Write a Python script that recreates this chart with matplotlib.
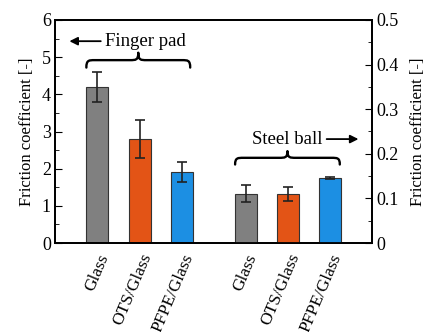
import matplotlib
matplotlib.use("Agg")
import matplotlib.pyplot as plt
from matplotlib.ticker import MultipleLocator
from matplotlib.path import Path
from matplotlib.patches import PathPatch

plt.rcParams['font.family'] = ['Liberation Serif', 'DejaVu Serif']

categories = ["Glass", "OTS/Glass", "PFPE/Glass", "Glass", "OTS/Glass", "PFPE/Glass"]
finger_vals = [4.2, 2.8, 1.9]
finger_err = [0.4, 0.5, 0.27]
steel_vals = [0.11, 0.11, 0.145]
steel_err = [0.019, 0.015, 0.002]
colors = ["#808080", "#E35416", "#1C8FE3"]

x_finger = [0, 1, 2]
x_steel = [3.5, 4.5, 5.5]


def brace(a, x0, x1, y0, y1):
    """Horizontal curly brace opening downwards, ends at y0, tip at y1."""
    xm = (x0 + x1) / 2
    ym = (y0 + y1) / 2
    d = (x1 - x0) * 0.08
    verts = [
        (x0, y0), (x0, ym), (x0 + d * 0.3, ym), (x0 + d, ym),
        (xm - d, ym),
        (xm - d * 0.3, ym), (xm, ym), (xm, y1),
        (xm, ym), (xm + d * 0.3, ym), (xm + d, ym),
        (x1 - d, ym),
        (x1 - d * 0.3, ym), (x1, ym), (x1, y0),
    ]
    codes = [Path.MOVETO, Path.CURVE4, Path.CURVE4, Path.CURVE4,
             Path.LINETO,
             Path.CURVE4, Path.CURVE4, Path.CURVE4,
             Path.CURVE4, Path.CURVE4, Path.CURVE4,
             Path.LINETO,
             Path.CURVE4, Path.CURVE4, Path.CURVE4]
    a.add_patch(PathPatch(Path(verts, codes), fill=False, lw=1.7, color="black",
                          capstyle='round', joinstyle='round'))


fig = plt.figure(figsize=(4.27, 3.32), dpi=100)
ax = fig.add_axes([55/427, 1-243/332, (372-55)/427, (243-20)/332])
ax2 = ax.twinx()

w = 0.52
ekw = dict(ecolor="#222222", elinewidth=1.2, capsize=3.5, capthick=1.2)
ax.bar(x_finger, finger_vals, width=w, color=colors, edgecolor="#333333", linewidth=0.8,
       yerr=finger_err, error_kw=ekw)
ax2.bar(x_steel, steel_vals, width=w, color=colors, edgecolor="#333333", linewidth=0.8,
        yerr=steel_err, error_kw=ekw)

ax.set_xlim(-1.0, 6.48)
ax.set_ylim(0, 6)
ax2.set_ylim(0, 0.5)
ax.yaxis.set_major_locator(MultipleLocator(1))
ax.yaxis.set_minor_locator(MultipleLocator(0.5))
ax2.set_yticks([0, 0.1, 0.2, 0.3, 0.4, 0.5])
ax2.set_yticklabels(["0", "0.1", "0.2", "0.3", "0.4", "0.5"])
ax2.yaxis.set_minor_locator(MultipleLocator(0.05))

for a in (ax, ax2):
    for s in a.spines.values():
        s.set_linewidth(1.3)
    a.tick_params(axis='y', which='both', direction='in', labelsize=13, pad=3)
    a.tick_params(axis='y', which='major', length=5)
    a.tick_params(axis='y', which='minor', length=3)

ax.set_xticks(x_finger + x_steel)
ax.set_xticklabels(categories, rotation=67, ha='right', rotation_mode='anchor', fontsize=12.5)
ax.tick_params(axis='x', length=0, pad=6)

ax.set_ylabel("Friction coefficient [-]", fontsize=12, labelpad=5)
ax2.set_ylabel("Friction coefficient [-]", fontsize=12, labelpad=8)

# Finger pad annotation
ax.annotate("", xy=(-0.66, 5.43), xytext=(0.08, 5.43),
            arrowprops=dict(arrowstyle="-|>", color="black", lw=1.3, mutation_scale=12,
                            shrinkA=0, shrinkB=0))
ax.text(0.18, 5.43, "Finger pad", fontsize=13.5, va='center', ha='left')
brace(ax, -0.26, 2.19, 4.72, 5.12)

# Steel ball annotation
ax2.text(4.49, 0.233, "Steel ball", fontsize=13.5, va='center', ha='center')
ax2.annotate("", xy=(6.16, 0.233), xytext=(5.41, 0.233),
             arrowprops=dict(arrowstyle="-|>", color="black", lw=1.3, mutation_scale=12,
                             shrinkA=0, shrinkB=0))
brace(ax2, 3.25, 5.72, 0.176, 0.206)

fig.savefig("out.png", dpi=100)
